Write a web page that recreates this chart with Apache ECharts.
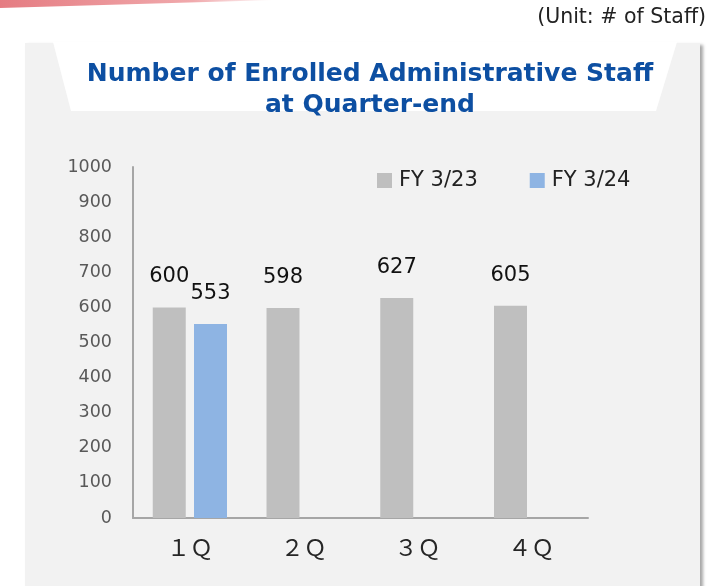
<!DOCTYPE html>
<html>
<head>
<meta charset="utf-8">
<script src="https://cdn.jsdelivr.net/npm/echarts@6/dist/echarts.min.js"></script>
<style>
  html, body { margin: 0; padding: 0; background: #fff; }
  #app { width: 708px; height: 586px; }
</style>
</head>
<body>
<div id="app"></div>
<script>
// data
var quarters = ['１Ｑ', '２Ｑ', '３Ｑ', '４Ｑ'];
var seriesNames = ['FY 3/23', 'FY 3/24'];
var fy23 = [600, 598, 627, 605];
var fy24 = [553, null, null, null];
var yTicks = { min: 0, max: 1000, interval: 100 };

var myChart = echarts.init(document.getElementById('app'));

var labelStyle = {
    show: true,
    position: 'top',
    distance: 20,
    color: '#111',
    fontSize: 21,
    fontFamily: 'DejaVu Sans'
};

var option = {
    backgroundColor: '#fff',
    animation: false,
    graphic: [
        // pink stripe top-left
        {
            type: 'polygon',
            shape: { points: [[0, 0], [275, 0], [0, 8]] },
            style: {
                fill: new echarts.graphic.LinearGradient(0, 0, 1, 0, [
                    { offset: 0, color: '#e57c82' },
                    { offset: 0.7, color: '#f0a9ac' },
                    { offset: 1, color: '#ffffff' }
                ])
            },
            z: 0
        },
        // gray panel
        {
            type: 'rect',
            shape: { x: 25, y: 43, width: 675, height: 560 },
            style: {
                fill: '#f2f2f2',
                shadowBlur: 3,
                shadowOffsetX: 3,
                shadowOffsetY: 2,
                shadowColor: 'rgba(0,0,0,0.35)'
            },
            z: -10
        },
        // white title notch
        {
            type: 'polygon',
            shape: { points: [[53, 42], [677, 42], [656, 111], [71, 111]] },
            style: { fill: '#ffffff' },
            z: -9
        },
        {
            type: 'text',
            right: 2,
            top: 7,
            style: {
                text: '(Unit: # of Staff)',
                fill: '#222',
                font: '20.5px "DejaVu Sans"'
            }
        },
        {
            type: 'text',
            x: 370,
            y: 59,
            style: {
                text: 'Number of Enrolled Administrative Staff\nat Quarter-end',
                fill: '#0d4fa2',
                font: 'bold 25px "DejaVu Sans"',
                align: 'center',
                lineHeight: 31
            }
        }
    ],
    legend: {
        left: 377,
        top: 170,
        padding: 0,
        itemWidth: 15,
        itemHeight: 15,
        itemGap: 52,
        icon: 'rect',
        textStyle: { color: '#222', fontSize: 21, fontFamily: 'DejaVu Sans', padding: [0, 0, 0, 2] },
        data: seriesNames
    },
    grid: { left: 133, right: 120, top: 167, bottom: 68 },
    xAxis: {
        type: 'category',
        data: quarters,
        axisLine: { lineStyle: { color: '#a6a6a6', width: 2 } },
        axisTick: { show: false },
        axisLabel: {
            color: '#262626',
            fontSize: 23,
            fontFamily: 'Noto Sans CJK JP',
            margin: 18
        }
    },
    yAxis: {
        type: 'value',
        min: yTicks.min,
        max: yTicks.max,
        interval: yTicks.interval,
        axisLine: { show: true, lineStyle: { color: '#a6a6a6', width: 2 } },
        axisTick: { show: false },
        splitLine: { show: false },
        axisLabel: {
            color: '#595959',
            fontSize: 17.5,
            fontFamily: 'DejaVu Sans',
            margin: 21,
            formatter: function (v) { return String(v); }
        }
    },
    series: [
        {
            name: seriesNames[0],
            type: 'bar',
            data: fy23,
            barWidth: 33,
            barGap: '25%',
            itemStyle: { color: '#bfbfbf' },
            label: labelStyle
        },
        {
            name: seriesNames[1],
            type: 'bar',
            data: fy24,
            barWidth: 33,
            itemStyle: { color: '#8eb4e3' },
            label: labelStyle
        }
    ]
};

myChart.setOption(option);
</script>
</body>
</html>
